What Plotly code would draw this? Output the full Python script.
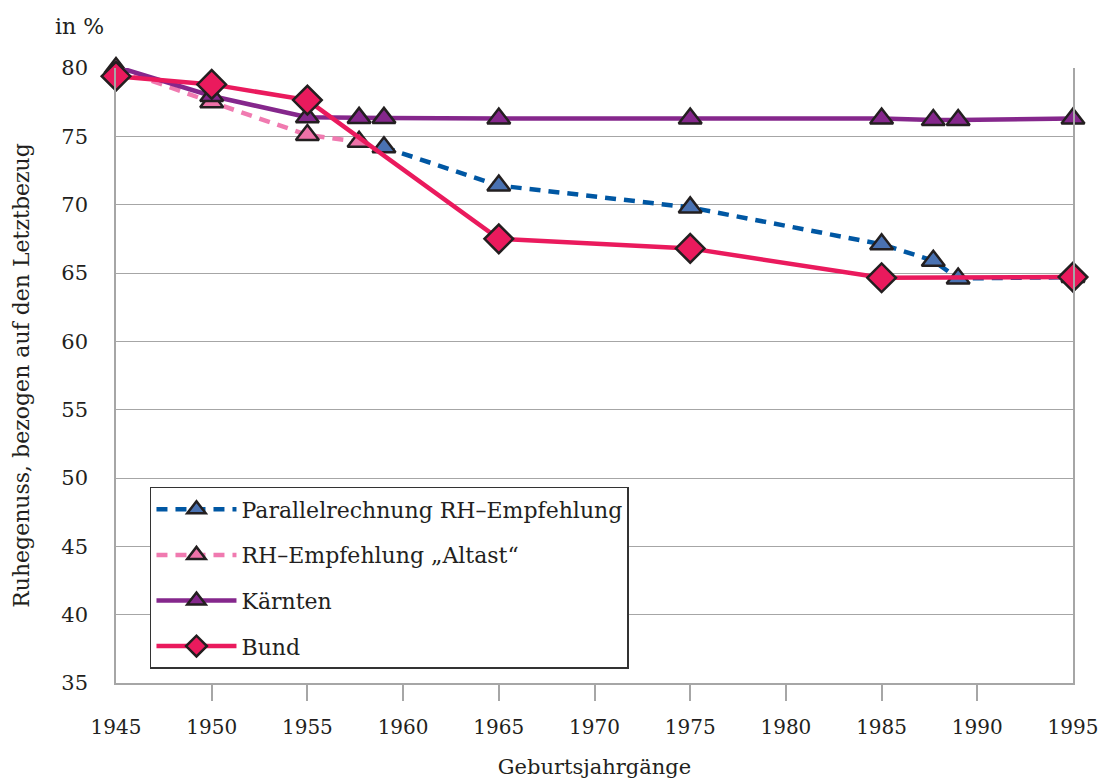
import plotly.graph_objects as go

# Data
years_parallel = [1959, 1965, 1975, 1985, 1987.7, 1989, 1995]
vals_parallel = [74.2, 71.4, 69.8, 67.1, 65.9, 64.6, 64.7]

years_altast = [1945, 1950, 1955, 1957.7]
vals_altast = [80.0, 77.5, 75.1, 74.6]

years_kaernten = [1945, 1950, 1955, 1957.7, 1959, 1965, 1975, 1985, 1987.7, 1989, 1995]
vals_kaernten = [80.1, 77.95, 76.4, 76.35, 76.35, 76.3, 76.3, 76.3, 76.2, 76.2, 76.3]

years_bund = [1945, 1950, 1955, 1965, 1975, 1985, 1995]
vals_bund = [79.4, 78.8, 77.65, 67.5, 66.8, 64.65, 64.7]

x_ticks = [1945, 1950, 1955, 1960, 1965, 1970, 1975, 1980, 1985, 1990, 1995]
y_ticks = [35, 40, 45, 50, 55, 60, 65, 70, 75, 80]

FONT = "DejaVu Serif"
TXT = "#231f20"
OUTLINE = dict(color="#231f20", width=2.5)

fig = go.Figure()

fig.add_trace(go.Scatter(
    x=years_parallel, y=vals_parallel, mode="lines+markers",
    name="Parallelrechnung RH–Empfehlung", legendrank=1, legendgroup="a",
    line=dict(color="#0057a3", width=4.5, dash="11px,8px"),
    marker=dict(symbol="triangle-up", size=20, color="#4a72b2", line=OUTLINE),
    cliponaxis=False,
))
fig.add_trace(go.Scatter(
    x=years_altast, y=vals_altast, mode="lines+markers",
    name="RH–Empfehlung „Altast“", legendrank=2, legendgroup="b",
    line=dict(color="#f07ab0", width=4.5, dash="11px,8px"),
    marker=dict(symbol="triangle-up", size=20, color="#ee72a8", line=OUTLINE),
    cliponaxis=False,
))
fig.add_trace(go.Scatter(
    x=years_kaernten, y=vals_kaernten, mode="lines+markers",
    name="Kärnten", legendrank=3, legendgroup="c",
    line=dict(color="#85278c", width=4.5),
    marker=dict(symbol="triangle-up", size=20, color="#85278c", line=OUTLINE),
    cliponaxis=False,
))
fig.add_trace(go.Scatter(
    x=years_bund, y=vals_bund, mode="lines+markers",
    name="Bund", legendrank=4, legendgroup="d",
    line=dict(color="#ea1a5d", width=4.5),
    marker=dict(symbol="diamond", size=22, color="#ea1a5d", line=OUTLINE),
    cliponaxis=False,
))

# overlay axis for ticks only at inner years
fig.add_trace(go.Scatter(x=[x_ticks[0], x_ticks[-1]], y=[None, None], xaxis="x2",
                         showlegend=False, hoverinfo="skip"))

fig.update_layout(
    width=1103, height=780,
    margin=dict(l=116, r=30, t=68, b=97),
    paper_bgcolor="white", plot_bgcolor="white",
    font=dict(family=FONT, size=20, color=TXT),
    xaxis=dict(
        range=[1945, 1995], tickvals=x_ticks, ticktext=[str(v) for v in x_ticks],
        showgrid=False, zeroline=False, showline=True, linecolor="#a6a6a6", linewidth=1.5,
        ticks="", ticklabelstandoff=25, automargin=False,
        tickfont=dict(size=20),
        title=dict(text="Geburtsjahrgänge", font=dict(size=21), standoff=22),
    ),
    xaxis2=dict(
        overlaying="x", matches="x", range=[1945, 1995], side="bottom",
        tickvals=x_ticks[1:-1], showticklabels=False, ticks="outside",
        ticklen=17, tickwidth=1.5, tickcolor="#a6a6a6", showgrid=False,
        showline=False, zeroline=False, automargin=False,
    ),
    yaxis=dict(
        range=[35, 80], tickvals=y_ticks, showgrid=True, gridcolor="#a6a6a6", gridwidth=1.2,
        zeroline=False, showline=True, mirror=True, linecolor="#a6a6a6", linewidth=1.5,
        ticks="", ticklabelstandoff=22, automargin=False,
        tickfont=dict(size=21),
        title=dict(text="Ruhegenuss, bezogen auf den Letztbezug", font=dict(size=22), standoff=26),
    ),
    legend=dict(
        x=0.0355, y=0.3187, xanchor="left", yanchor="top",
        bordercolor="#333333", borderwidth=1.5, bgcolor="white",
        font=dict(size=22), tracegroupgap=14, itemsizing="trace", itemwidth=80,
    ),
    showlegend=True,
    annotations=[dict(text="in %", xref="paper", yref="paper", x=-0.066, y=1.0667,
                      xanchor="left", yanchor="middle", showarrow=False,
                      font=dict(size=22))],
)

fig.write_html(
    "out.html",
    config={"displayModeBar": False},
    post_script="document.body.style.margin='0';document.body.style.overflow='hidden';",
)
